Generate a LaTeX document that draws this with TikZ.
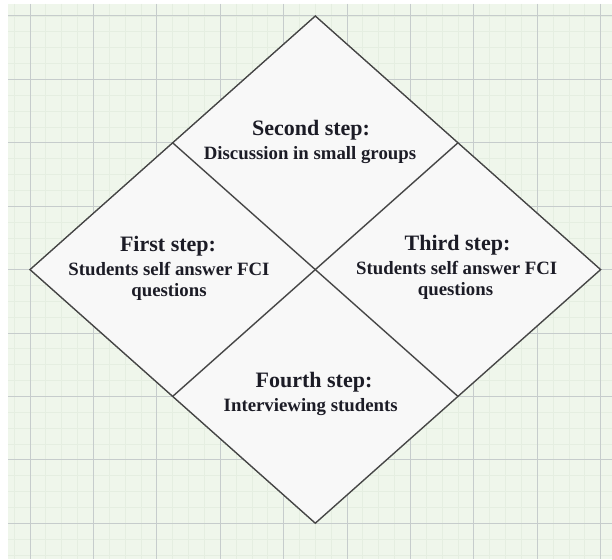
\documentclass[tikz,border=0pt]{standalone}
\usepackage{fontspec}
\setmainfont{Liberation Serif}
\usetikzlibrary{calc}
\definecolor{bggreen}{RGB}{239,246,235}
\definecolor{minorgrid}{RGB}{229,238,225}
\definecolor{majorgrid}{RGB}{198,204,204}
\definecolor{edgecol}{RGB}{70,70,70}
\definecolor{cellfill}{RGB}{248,248,248}
\definecolor{txt}{RGB}{28,28,38}
\begin{document}
\begin{tikzpicture}[x=1pt,y=-1pt,
  titletext/.style={font=\fontsize{22}{24}\selectfont\bfseries, text=txt, anchor=base, inner sep=0pt},
  bodytext/.style={font=\fontsize{18.8}{22}\selectfont\bfseries, text=txt, anchor=base, inner sep=0pt},
  minorline/.style={draw=minorgrid, line width=0.8pt},
  majorline/.style={draw=majorgrid, line width=1pt},
  outline/.style={draw=edgecol, line width=1.4pt, line join=miter}]
\useasboundingbox (0,0) rectangle (612,559);
\fill[white] (0,0) rectangle (612,559);
\fill[bggreen] (8,4) rectangle (612,559);
\begin{scope}
  \clip (8,4) rectangle (612,559);
  \foreach \k in {-1,...,37} \draw[minorline] ({30+15.85*\k},4) -- ({30+15.85*\k},559);
  \foreach \k in {-1,...,35} \draw[minorline] (8,{16+15.85*\k}) -- (612,{16+15.85*\k});
  \foreach \k in {0,...,9} \draw[majorline] ({30+63.4*\k},4) -- ({30+63.4*\k},559);
  \foreach \k in {0,...,8} \draw[majorline] (8,{16+63.4*\k}) -- (612,{16+63.4*\k});
\end{scope}
\coordinate (T) at (315.3,16);
\coordinate (L) at (30,269.6);
\coordinate (R) at (600.6,269.6);
\coordinate (B) at (315.3,523.2);
\coordinate (TL) at ($(T)!0.5!(L)$);
\coordinate (TR) at ($(T)!0.5!(R)$);
\coordinate (BL) at ($(B)!0.5!(L)$);
\coordinate (BR) at ($(B)!0.5!(R)$);
\filldraw[fill=cellfill, outline] (T) -- (R) -- (B) -- (L) -- cycle;
\draw[outline] (TL) -- (BR);
\draw[outline] (TR) -- (BL);
% second step (top)
\node[titletext] (s2a) at (311,135) {Second step:};
\node[bodytext] (s2b) at (310,159.3) {Discussion in small groups};
% first step (left)
\node[titletext] (s1a) at (168,251.5) {First step:};
\node[bodytext] (s1b) at (169,275) {Students self answer FCI};
\node[bodytext] (s1c) at (169,296) {questions};
% third step (right)
\node[titletext] (s3a) at (457.5,250.7) {Third step:};
\node[bodytext] (s3b) at (456.7,274.3) {Students self answer FCI};
\node[bodytext] (s3c) at (455.5,295) {questions};
% fourth step (bottom)
\node[titletext] (s4a) at (314,387.7) {Fourth step:};
\node[bodytext] (s4b) at (310.7,411.7) {Interviewing students};
\end{tikzpicture}
\end{document}
